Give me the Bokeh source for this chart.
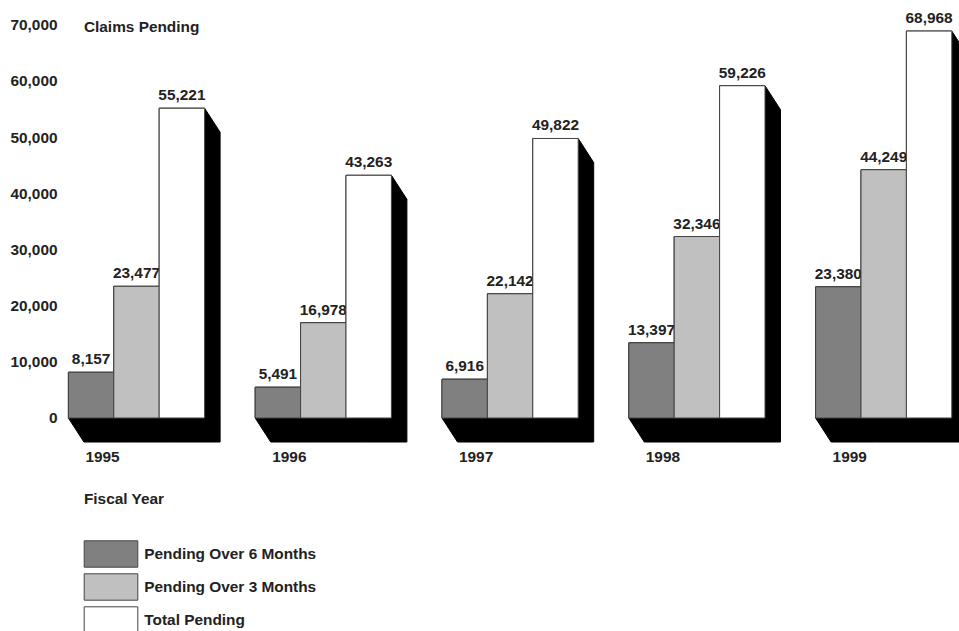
from bokeh.plotting import figure
from bokeh.models import (ColumnDataSource, FixedTicker, NumeralTickFormatter,
                          Range1d, Legend, LegendItem)
from bokeh.core.properties import value
from bokeh.embed import file_html
from bokeh.resources import INLINE

# ---------------- data ----------------
years = ["1995", "1996", "1997", "1998", "1999"]
over_6_months = [8157, 5491, 6916, 13397, 23380]
over_3_months = [23477, 16978, 22142, 32346, 44249]
total_pending = [55221, 43263, 49822, 59226, 68968]
series_names = ["Pending Over 6 Months", "Pending Over 3 Months", "Total Pending"]
y_ticks = [0, 10000, 20000, 30000, 40000, 50000, 60000, 70000]
y_title = "Claims Pending"
x_title = "Fiscal Year"

# ---------------- style / layout ----------------
W, H = 959, 631
FRAME_LEFT = 62
PX_PER_GROUP = 186.8          # horizontal spacing of year groups
GROUP0_CENTER_PX = 136.0      # canvas x of first group's centre
BAR_W_PX = 45.4
PX_PER_UNIT_Y = 0.00561       # pixels per claim
BASELINE_PX = 417.5           # canvas y of the zero line
DEPTH_X_PX, DEPTH_Y_PX = 15.5, 24.0
FONT = "Liberation Sans"
TXT = "#222222"
colors = ["#808080", "#c0c0c0", "#ffffff"]
FS = "15.4px"

ux = 1.0 / PX_PER_GROUP                 # data units per px (x)
uy = 1.0 / PX_PER_UNIT_Y                # data units per px (y)
bw = BAR_W_PX * ux
dx = DEPTH_X_PX * ux
dy = DEPTH_Y_PX * uy

x_start = (FRAME_LEFT - GROUP0_CENTER_PX) * ux
x_end = x_start + (W - FRAME_LEFT) * ux
y_start = -(H - BASELINE_PX) * uy
y_end = BASELINE_PX * uy

p = figure(width=W, height=H, output_backend="svg", toolbar_location=None,
           x_range=Range1d(x_start, x_end), y_range=Range1d(y_start, y_end),
           x_axis_location=None, y_axis_location="left",
           min_border_left=FRAME_LEFT, min_border_right=0,
           min_border_top=0, min_border_bottom=0,
           outline_line_color=None, background_fill_color="white",
           border_fill_color="white")
p.xgrid.visible = False
p.ygrid.visible = False

ax = p.yaxis[0]
ax.ticker = FixedTicker(ticks=y_ticks)
ax.formatter = NumeralTickFormatter(format="0,0")
ax.axis_line_color = None
ax.major_tick_line_color = None
ax.minor_tick_line_color = None
ax.major_tick_out = 0
ax.major_tick_in = 0
ax.minor_tick_out = 0
ax.major_label_standoff = 5
ax.major_label_text_font = FONT
ax.major_label_text_font_style = "bold"
ax.major_label_text_font_size = FS
ax.major_label_text_color = TXT

series = [over_6_months, over_3_months, total_pending]
n = len(years)

# 3D extrusions (black), drawn first
xs_all, ys_all = [], []
for s_i, vals in enumerate(series):
    for g in range(n):
        x0 = g + (s_i - 1.5) * bw
        x1 = x0 + bw
        v = vals[g]
        xs_all.append([x0, x1, x1 + dx, x1 + dx, x0 + dx, x0])
        ys_all.append([v, v, v - dy, -dy, -dy, 0])
p.patches(xs_all, ys_all, fill_color="black", line_color="black", line_width=1)

# front faces
renderers = []
for s_i, vals in enumerate(series):
    left = [g + (s_i - 1.5) * bw for g in range(n)]
    right = [l + bw for l in left]
    src = ColumnDataSource(dict(left=left, right=right, top=vals,
                                bottom=[0] * n,
                                xc=[l + bw / 2 for l in left],
                                lab=[f"{v:,}" for v in vals]))
    r = p.quad(left="left", right="right", top="top", bottom="bottom", source=src,
               fill_color=colors[s_i], line_color="#444444", line_width=1)
    renderers.append(r)
    p.text(x="xc", y="top", text="lab", source=src, text_align="center",
           text_baseline="middle", y_offset=-13,
           text_font=value(FONT), text_font_style="bold",
           text_font_size=FS, text_color=TXT)

# year labels under each floor
floor_left = [g - 1.5 * bw + dx for g in range(n)]
ysrc = ColumnDataSource(dict(x=floor_left, y=[0] * n, t=years))
p.text(x="x", y="y", text="t", source=ysrc, x_offset=1.5, y_offset=39,
       text_baseline="middle", text_align="left",
       text_font=value(FONT), text_font_style="bold",
       text_font_size=FS, text_color=TXT)

# titles
p.text(x=[floor_left[0]], y=[y_ticks[-1]], text=[y_title], text_baseline="middle",
       text_align="left", text_font=value(FONT), text_font_style="bold",
       text_font_size=FS, text_color=TXT, y_offset=1)
p.text(x=[floor_left[0]], y=[0], text=[x_title], y_offset=80, text_baseline="middle",
       text_align="left", text_font=value(FONT), text_font_style="bold",
       text_font_size=FS, text_color=TXT)

legend = Legend(items=[LegendItem(label=series_names[i], renderers=[renderers[i]])
                       for i in range(3)],
                location=(15.3, -5), orientation="vertical",
                glyph_width=67, glyph_height=33, label_height=33, spacing=0,
                label_standoff=0, padding=0, margin=0,
                border_line_color=None, background_fill_alpha=0,
                label_text_font=FONT, label_text_font_style="bold",
                label_text_font_size=FS, label_text_color=TXT,
                label_text_baseline="middle")
p.add_layout(legend)

open("out.html", "w").write(file_html(p, INLINE))
